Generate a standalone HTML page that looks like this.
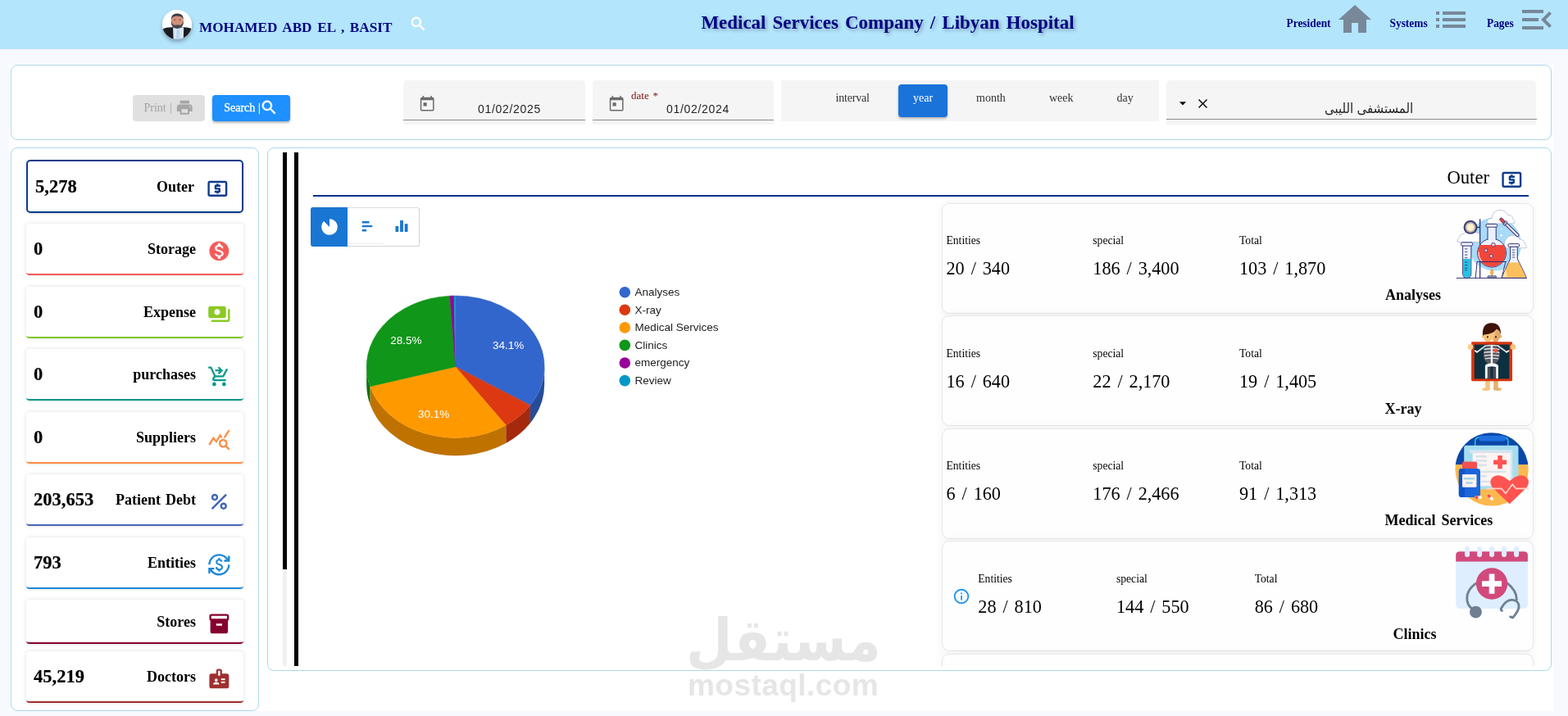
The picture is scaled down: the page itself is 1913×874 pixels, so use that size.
<!DOCTYPE html>
<html lang="en">
<head>
<meta charset="utf-8">
<title>Medical Services Company / Libyan Hospital</title>
<style>
*{box-sizing:border-box;margin:0;padding:0}
html,body{width:1913px;height:874px;overflow:hidden;background:#f8f8ff}
body{font-family:"Liberation Serif","DejaVu Serif",serif;color:#000;position:relative;word-spacing:2.4px}
.abs{position:absolute}
.t{position:absolute;white-space:nowrap;line-height:1}
.sans{font-family:"Liberation Sans","DejaVu Sans",sans-serif;word-spacing:0}
svg{position:absolute;display:block;overflow:visible}
#hdr{left:0;top:0;width:1913px;height:60px;background:#b3e5fc}
#white{left:11px;top:79px;width:1884px;height:789px;background:#fff}
.panel{position:absolute;border:1px solid #add8e6;border-radius:8px;background:#fff}
.navy{color:#000080}
.hname{font-weight:bold;font-size:17.2px}
.htitle{font-weight:bold;font-size:22.96px;text-shadow:2px 2px 4px rgba(0,0,40,.33)}
.hlink{font-weight:bold;font-size:13.4px;word-spacing:0;transform:scaleY(1.09);transform-origin:0 11.2px}
.avatar{position:absolute;left:197.6px;top:11.8px;width:36.7px;height:36.7px;border-radius:50%;overflow:hidden;background:#fff;box-shadow:0 3px 5px rgba(0,0,30,.3)}
.field{position:absolute;top:98px;height:53.5px;background:#f5f5f5;border-radius:4px 4px 0 0}
.field i{position:absolute;left:0;right:0;top:47.5px;height:1px;background:#8c8c8c}
.btn{position:absolute;top:116px;height:32px;border-radius:4px}
.f14{font-size:14px}
.scard{position:absolute;left:32px;width:265px;background:#fff;border-radius:4px;box-shadow:0 0 5px rgba(0,0,0,.13);border-bottom:2px solid #000}
.snum{font-weight:bold;font-size:22.5px;-webkit-text-stroke:.2px #000}
.slab{font-weight:bold;font-size:18px}
.rcard{position:absolute;width:721.5px;height:135px;background:#fefefe;border:1px solid #e7e7e7;border-radius:9px;box-shadow:0 0 14px rgba(0,0,0,.055)}
.rl{font-size:13.6px}
.rv{font-size:22.2px}
.rn{font-weight:bold;font-size:18px}
.lg{font-size:13.5px;color:#222}
.pl{font-size:14px;fill:#fff}
</style>
</head>
<body>
<div id="hdr" class="abs"></div>
<div id="white" class="abs"></div>
<!-- HEADER -->
<div id="header-content">
  <div class="avatar">
    <svg width="36.7" height="36.7" viewBox="0 0 36.7 36.7" style="left:0;top:0">
      <rect width="36.7" height="36.7" fill="#fff"/>
      <path d="M0 36.7 V23.4 Q6 21 12 21.3 L26.5 21.3 Q31 21 36.7 23.4 V36.7 Z" fill="#1b1c22"/>
      <path d="M13.1 21.5 L26.2 21.5 L25.8 36.7 L13.6 36.7 Z" fill="#d9e8f6"/>
      <path d="M17.6 24 L21 24 L21.6 36.7 L17 36.7Z" fill="#b9d6ee"/>
      <ellipse cx="18.3" cy="13.6" rx="7.6" ry="8.8" fill="#d29079"/>
      <path d="M10.7 12.4 Q10.6 4.6 18.3 4.5 Q26 4.6 25.9 12.4 Q25 7.4 18.3 7.4 Q11.6 7.4 10.7 12.4Z" fill="#3a3a40"/>
      <path d="M10.7 14.6 Q10.6 22.6 18.3 23 Q26 22.6 25.9 14.6 L25.1 14.6 Q24.6 18.6 21.6 18.7 Q18.3 17.8 15 18.7 Q12 18.6 11.5 14.6Z" fill="#46474d"/>
      <circle cx="15.3" cy="12.3" r=".7" fill="#4a3a3a"/><circle cx="21.3" cy="12.3" r=".7" fill="#4a3a3a"/>
    </svg>
  </div>
  <span class="t navy hname" style="left:243px;top:24.5px">MOHAMED ABD EL , BASIT</span>
  <svg width="22.5" height="22.5" viewBox="0 0 24 24" style="left:499.2px;top:18.2px"><path fill="#fff" stroke="#fff" stroke-width=".5" d="M15.5 14h-.79l-.28-.27C15.41 12.59 16 11.11 16 9.5 16 5.91 13.09 3 9.5 3S3 5.91 3 9.5 5.91 16 9.5 16c1.61 0 3.09-.59 4.23-1.57l.27.28v.79l5 4.99L20.49 19l-4.99-5zm-6 0C7.01 14 5 11.99 5 9.5S7.01 5 9.5 5 14 7.01 14 9.5 11.99 14 9.5 14z"/></svg>
  <span class="t navy htitle" style="left:855.4px;top:17px">Medical Services Company / Libyan Hospital</span>
  <span class="t navy hlink" style="left:1569.5px;top:22px">President</span>
  <svg width="48" height="48" viewBox="0 0 24 24" style="left:1628.5px;top:0"><path fill="#778899" d="M10 20v-6h4v6h5v-8h3L12 3 2 12h3v8z"/></svg>
  <span class="t navy hlink" style="left:1695.5px;top:22px">Systems</span>
  <svg width="48" height="48" viewBox="0 0 24 24" style="left:1746px;top:0"><path fill="#778899" d="M3 13h2v-2H3v2zm0 4h2v-2H3v2zm0-8h2V7H3v2zm4 4h14v-2H7v2zm0 4h14v-2H7v2zM7 7v2h14V7H7z"/></svg>
  <span class="t navy hlink" style="left:1814px;top:22px">Pages</span>
  <svg width="48" height="48" viewBox="0 0 24 24" style="left:1851px;top:0"><path fill="#778899" d="M3 18h13v-2H3v2zm0-5h10v-2H3v2zm0-7v2h13V6H3zm18 9.59L17.42 12 21 8.41 19.59 7l-5 5 5 5L21 15.59z"/></svg>
</div>
<!-- FILTER PANEL -->
<div class="panel" id="filter" style="left:13px;top:79px;width:1880px;height:92px"></div>
<div id="filter-content">
  <div class="btn" style="left:162px;width:87.5px;background:#e0e0e0"></div>
  <span class="t f14" style="left:175.5px;top:124.5px;color:#a3a3a3;word-spacing:.9px">Print |</span>
  <svg width="22.5" height="22.5" viewBox="0 0 24 24" style="left:214px;top:120.2px"><path fill="#a6a6a6" d="M19 8H5c-1.66 0-3 1.34-3 3v6h4v4h12v-4h4v-6c0-1.66-1.34-3-3-3zm-3 11H8v-5h8v5zm3-7c-.55 0-1-.45-1-1s.45-1 1-1 1 .45 1 1-.45 1-1 1zm-1-9H6v4h12V3z"/></svg>
  <div class="btn" style="left:259px;width:95px;background:#1e90ff;box-shadow:0 2px 3px rgba(0,0,0,.3)"></div>
  <span class="t f14" style="left:273.2px;top:124.5px;color:#fff;word-spacing:.3px;-webkit-text-stroke:.3px #fff">Search |</span>
  <svg width="22.5" height="22.5" viewBox="0 0 24 24" style="left:317.2px;top:120.2px"><path fill="#fff" stroke="#fff" stroke-width=".5" d="M15.5 14h-.79l-.28-.27C15.41 12.59 16 11.11 16 9.5 16 5.91 13.09 3 9.5 3S3 5.91 3 9.5 5.91 16 9.5 16c1.61 0 3.09-.59 4.23-1.57l.27.28v.79l5 4.99L20.49 19l-4.99-5zm-6 0C7.01 14 5 11.99 5 9.5S7.01 5 9.5 5 14 7.01 14 9.5 11.99 14 9.5 14z"/></svg>

  <div class="field" style="left:492px;width:222px"><i></i></div>
  <svg width="22.4" height="22.4" viewBox="0 0 24 24" style="left:509.8px;top:116px"><path fill="#6a6a6a" d="M19 3h-1V1h-1.600v2H7.600V1H6v2H5c-1.110 0-1.990.9-1.990 2L3 19c0 1.100.890 2 2 2h14c1.100 0 2-.9 2-2V5c0-1.100-.9-2-2-2zm.4 16.400H4.600V6.600h14.800v12.800zM7 10h4.400v4.400H7z"/></svg>
  <span class="t sans f14" style="left:583px;top:126px;color:#1f1f1f;letter-spacing:.68px">01/02/2025</span>

  <div class="field" style="left:723px;width:221px"><i></i></div>
  <svg width="22.4" height="22.4" viewBox="0 0 24 24" style="left:740.6px;top:115.6px"><path fill="#6a6a6a" d="M19 3h-1V1h-1.600v2H7.600V1H6v2H5c-1.110 0-1.990.9-1.990 2L3 19c0 1.100.890 2 2 2h14c1.100 0 2-.9 2-2V5c0-1.100-.9-2-2-2zm.4 16.400H4.600V6.600h14.800v12.800zM7 10h4.400v4.400H7z"/></svg>
  <span class="t" style="left:770px;top:110px;font-size:13px;color:#7d1212;word-spacing:1.6px">date *</span>
  <span class="t sans f14" style="left:813px;top:126px;color:#1f1f1f;letter-spacing:.68px">01/02/2024</span>

  <div class="abs" style="left:953px;top:98px;width:461px;height:49.5px;background:#f5f5f5"></div>
  <div class="abs" style="left:1096px;top:103px;width:60px;height:40px;background:#1a73d9;border-radius:4px;box-shadow:0 2px 3px rgba(0,0,0,.25)"></div>
  <span class="t f14" style="left:1019.5px;top:112.5px;color:#333;letter-spacing:-.2px">interval</span>
  <span class="t f14" style="left:1114px;top:112.5px;color:#fff">year</span>
  <span class="t f14" style="left:1191px;top:112.5px;color:#333">month</span>
  <span class="t f14" style="left:1280px;top:112.5px;color:#333">week</span>
  <span class="t f14" style="left:1362.5px;top:112.5px;color:#333">day</span>

  <div class="field" style="left:1423px;width:451px"><i style="right:-1px;top:46.5px"></i></div>
  <svg width="20" height="20" viewBox="0 0 24 24" style="left:1432.6px;top:115.7px"><path fill="#111" d="M7 10l5 5 5-5z"/></svg>
  <svg width="19" height="19" viewBox="0 0 24 24" style="left:1458px;top:116.7px"><path fill="#111" d="M19 6.41L17.59 5 12 10.59 6.41 5 5 6.41 10.59 12 5 17.59 6.41 19 12 13.41 17.59 19 19 17.59 13.41 12z"/></svg>
  <span class="t sans" dir="rtl" lang="ar" style="left:1616px;top:125px;font-size:15px;color:#1f1f1f;transform:scaleY(1.1);transform-origin:50% 88%">المستشفى الليبى</span>
</div>
<!-- LEFT PANEL -->
<div class="panel" id="left" style="left:13px;top:180px;width:303px;height:688px"></div>
<div id="left-content">
  <div class="abs" style="left:32px;top:195px;width:265px;height:65px;border:2px solid #0d3b8c;border-radius:5px;background:#fff;box-shadow:0 1px 3px rgba(0,0,0,.15)"></div>
  <span class="t snum" style="left:43px;top:217px">5,278</span>
  <span class="t slab" style="right:1676px;top:219px">Outer</span>
  <svg width="28.7" height="28.7" viewBox="0 0 24 24" style="left:250.8px;top:216px"><path fill="#0d3b8c" d="M11 17h2v-1h1c.55 0 1-.45 1-1v-3c0-.55-.45-1-1-1h-3v-1h4V8h-2V7h-2v1h-1c-.55 0-1 .45-1 1v3c0 .55.45 1 1 1h3v1H9v2h2v1zm9-13H4c-1.11 0-1.99.89-1.99 2L2 18c0 1.11.89 2 2 2h16c1.11 0 2-.89 2-2V6c0-1.11-.89-2-2-2zm0 14H4V6h16v12z"/></svg>

  <div class="scard" style="top:273px;height:62.5px;border-color:#f55a5a"></div>
  <span class="t snum" style="left:41px;top:293px">0</span>
  <span class="t slab" style="right:1674px;top:295px">Storage</span>
  <svg width="28.7" height="28.7" viewBox="0 0 24 24" style="left:252.7px;top:292px"><path fill="#f55a5a" d="M12 2C6.48 2 2 6.48 2 12s4.48 10 10 10 10-4.48 10-10S17.52 2 12 2zm1.41 16.09V20h-2.67v-1.93c-1.71-.36-3.16-1.46-3.27-3.4h1.96c.1 1.05.82 1.87 2.65 1.87 1.96 0 2.4-.98 2.4-1.59 0-.83-.44-1.61-2.67-2.14-2.48-.6-4.18-1.62-4.18-3.67 0-1.72 1.39-2.84 3.11-3.21V4h2.67v1.95c1.86.45 2.79 1.86 2.85 3.39H14.3c-.05-1.11-.64-1.87-2.22-1.87-1.5 0-2.4.68-2.4 1.64 0 .84.65 1.39 2.67 1.91s4.18 1.39 4.18 3.91c-.01 1.83-1.38 2.83-3.12 3.16z"/></svg>

  <div class="scard" style="top:349.5px;height:63.5px;border-color:#7ec820"></div>
  <span class="t snum" style="left:41px;top:369.5px">0</span>
  <span class="t slab" style="right:1674px;top:371.5px">Expense</span>
  <svg width="28.7" height="28.7" viewBox="0 0 24 24" style="left:252.6px;top:368.8px"><path fill="#8bc926" d="M19 14V6c0-1.1-.9-2-2-2H3c-1.1 0-2 .9-2 2v8c0 1.1.9 2 2 2h14c1.1 0 2-.9 2-2zm-9-1c-1.66 0-3-1.34-3-3s1.34-3 3-3 3 1.34 3 3-1.34 3-3 3zm13-6v11c0 1.1-.9 2-2 2H4v-2h17V7h2z"/></svg>

  <div class="scard" style="top:425.5px;height:63.5px;border-color:#009688"></div>
  <span class="t snum" style="left:41px;top:446px">0</span>
  <span class="t slab" style="right:1674px;top:448px">purchases</span>
  <svg width="28.7" height="28.7" viewBox="0 0 24 24" style="left:252.8px;top:445.2px"><path fill="#0a9a90" d="M7,18c-1.1,0-1.99,0.9-1.99,2S5.900,22,7,22s2-0.900,2-2S8.100,18,7,18z M17,18c-1.100,0-1.990,0.900-1.990,2s0.890,2,1.990,2s2-0.900,2-2 S18.100,18,17,18z M8.100,13h7.450c0.750,0,1.410-0.410,1.750-1.030L21,4.960L19.250,4l-3.700,7H8.530L4.270,2H1v2h2l3.600,7.590l-1.350,2.440 C4.520,15.370,5.480,17,7,17h12v-2H7L8.100,13z M12,2l4,4l-4,4l-1.410-1.410L12.170,7H8V5h4.170l-1.590-1.590L12,2z"/></svg>

  <div class="scard" style="top:503px;height:63px;border-color:#fa8c46"></div>
  <span class="t snum" style="left:41px;top:522.5px">0</span>
  <span class="t slab" style="right:1674px;top:524.5px">Suppliers</span>
  <svg width="28.7" height="28.7" viewBox="0 0 24 24" style="left:252.6px;top:521.5px"><path fill="#fa8f4a" d="M19.880,18.470c0.440-0.700,0.700-1.510,0.700-2.390c0-2.490-2.010-4.500-4.500-4.500s-4.500,2.010-4.500,4.500s2.010,4.500,4.490,4.500 c0.880,0,1.700-0.260,2.390-0.700L21.580,23L23,21.580L19.880,18.470z M16.080,18.580c-1.380,0-2.500-1.120-2.500-2.500c0-1.380,1.120-2.500,2.500-2.500 s2.500,1.120,2.500,2.500C18.580,17.460,17.460,18.580,16.080,18.580z M15.720,10.080c-0.740,0.020-1.450,0.180-2.100,0.450l-0.550-0.830l-3.800,6.180 l-3.010-3.520l-3.630,5.810L1,17l5-8l3,3.500L13,6C13,6,15.720,10.080,15.720,10.080z M18.310,10.580c-0.640-0.280-1.330-0.450-2.050-0.490 c0,0,5.120-8.090,5.120-8.090L23,3.180L18.310,10.580z"/></svg>

  <div class="scard" style="top:579px;height:63px;border-color:#4467b6"></div>
  <span class="t snum" style="left:41px;top:599px">203,653</span>
  <span class="t slab" style="right:1674px;top:601px;word-spacing:1.4px">Patient Debt</span>
  <svg width="28.7" height="28.7" viewBox="0 0 24 24" style="left:252.9px;top:598.4px"><path fill="#3f62b8" d="M7.500,4C5.570,4,4,5.570,4,7.500S5.570,11,7.500,11S11,9.430,11,7.500S9.430,4,7.500,4z M7.500,9C6.670,9,6,8.330,6,7.500S6.670,6,7.500,6 S9,6.670,9,7.500S8.330,9,7.500,9z M16.500,13c-1.930,0-3.500,1.570-3.500,3.500s1.570,3.500,3.500,3.500s3.500-1.570,3.500-3.500S18.430,13,16.500,13z M16.500,18 c-0.830,0-1.500-0.670-1.500-1.500s0.670-1.500,1.500-1.500s1.500,0.670,1.500,1.500S17.330,18,16.500,18z M5.410,20L4,18.590L18.590,4L20,5.410L5.410,20z"/></svg>

  <div class="scard" style="top:656px;height:62.5px;border-color:#1e88d8"></div>
  <span class="t snum" style="left:41px;top:675.5px">793</span>
  <span class="t slab" style="right:1674px;top:677.5px">Entities</span>
  <svg width="28.7" height="28.7" viewBox="0 0 24 24" style="left:252.9px;top:674.7px"><path fill="#1e88d8" d="M12.890,11.100c-1.780-0.590-2.640-0.960-2.640-1.900c0-1.020,1.110-1.390,1.810-1.390c1.310,0,1.790,0.990,1.900,1.340l1.580-0.670 c-0.150-0.440-0.820-1.910-2.660-2.230V5h-1.750v1.260c-2.600,0.560-2.620,2.850-2.620,2.960c0,2.270,2.250,2.910,3.350,3.310 c1.580,0.560,2.280,1.070,2.280,2.030c0,1.130-1.050,1.610-1.980,1.610c-1.820,0-2.340-1.870-2.400-2.090L8.100,14.750c0.630,2.190,2.280,2.780,3.020,2.960V19 h1.750v-1.240c0.520-0.090,3.020-0.590,3.020-3.220C15.900,13.150,15.290,11.930,12.890,11.100z M3,21H1v-6h6v2l-2.480,0c1.610,2.410,4.360,4,7.480,4 c4.970,0,9-4.030,9-9h2c0,6.080-4.920,11-11,11c-3.720,0-7.010-1.850-9-4.670L3,21z M1,12C1,5.920,5.920,1,12,1c3.720,0,7.010,1.850,9,4.670L21,3 h2v6h-6V7l2.480,0C17.870,4.590,15.120,3,12,3c-4.970,0-9,4.030-9,9H1z"/></svg>

  <div class="scard" style="top:731.5px;height:54px;border-color:#84022f"></div>
  <span class="t slab" style="right:1674px;top:749.5px">Stores</span>
  <svg width="28.7" height="28.7" viewBox="0 0 24 24" style="left:252.9px;top:746.7px"><path fill="#84022f" d="M20 2H4c-1 0-2 .9-2 2v3.010c0 .72.430 1.340 1 1.690V20c0 1.100 1.100 2 2 2h14c.9 0 2-.9 2-2V8.700c.570-.350 1-.970 1-1.690V4c0-1.100-1-2-2-2zm-5 12H9v-2h6v2zm5-7H4V4h16v3z"/></svg>

  <div class="scard" style="top:795px;height:62.5px;border-color:#a52a2a"></div>
  <span class="t snum" style="left:41px;top:815px">45,219</span>
  <span class="t slab" style="right:1674px;top:817px">Doctors</span>
  <svg width="28.7" height="28.7" viewBox="0 0 24 24" style="left:253px;top:814px"><path fill="#a03030" d="M20,7h-5V4c0-1.100-0.900-2-2-2h-2C9.900,2,9,2.900,9,4v3H4C2.900,7,2,7.900,2,9v11c0,1.100,0.900,2,2,2h16c1.100,0,2-0.900,2-2V9 C22,7.900,21.100,7,20,7z M9,12c0.830,0,1.500,0.670,1.500,1.500S9.830,15,9,15s-1.500-0.670-1.500-1.500S8.170,12,9,12z M12,18H6v-0.750c0-1,2-1.500,3-1.500 s3,0.500,3,1.500V18z M13,9h-2V4h2V9z M18,16.500h-4V15h4V16.500z M18,13.500h-4V12h4V13.500z"/></svg>
</div>
<!-- RIGHT PANEL -->
<div class="panel" id="right" style="left:326px;top:180px;width:1567px;height:639px"></div>
<div id="right-content">
  <div class="abs" style="left:345px;top:186px;width:5px;height:627px;background:#f0f0f0"></div>
  <div class="abs" style="left:345px;top:186px;width:5px;height:509px;background:#000"></div>
  <div class="abs" style="left:359px;top:186px;width:5px;height:627px;background:#000"></div>
  <div class="abs" style="left:382px;top:238px;width:1483px;height:2px;background:#003087"></div>
  <span class="t" style="left:1765.5px;top:205.5px;font-size:22.6px">Outer</span>
  <svg width="28.7" height="28.7" viewBox="0 0 24 24" style="left:1830.3px;top:205px"><path fill="#0d3b8c" d="M11 17h2v-1h1c.55 0 1-.45 1-1v-3c0-.55-.45-1-1-1h-3v-1h4V8h-2V7h-2v1h-1c-.55 0-1 .45-1 1v3c0 .55.45 1 1 1h3v1H9v2h2v1zm9-13H4c-1.11 0-1.99.89-1.99 2L2 18c0 1.11.89 2 2 2h16c1.11 0 2-.89 2-2V6c0-1.11-.89-2-2-2zm0 14H4V6h16v12z"/></svg>

  <div class="abs" style="left:379px;top:253px;width:133px;height:47.5px;border:1px solid #dedede;border-right-color:#d4d4d4;border-bottom-color:#d4d4d4;border-radius:3px;background:#fff"></div>
  <div class="abs" style="left:424px;top:297.3px;width:44px;height:1px;background:#e9e9e9"></div>
  <div class="abs" style="left:379px;top:253px;width:45px;height:47.5px;border-radius:3px 0 0 3px;background:#1976d2"></div>
  <svg width="30" height="30" viewBox="-15 -15 30 30" style="left:386.8px;top:261.8px"><path fill="#fff" d="M0,0 L0,-9.8 A9.8,9.8 0 1 1 -6.93,-6.93 Z"/></svg>
  <svg width="20" height="20" viewBox="0 0 20 20" style="left:440px;top:267px"><path fill="#1976d2" d="M1.7 3.1h8.8v2.5H1.7zM1.7 7.9h12.5v2.4H1.7zM1.7 13.1h5.4v2.5H1.7z"/></svg>
  <svg width="20" height="20" viewBox="0 0 20 20" style="left:480px;top:267px"><path fill="#1976d2" d="M2.5 9.1h3.7v6.9H2.5zM8.1 2h3.8v14H8.1zM13.7 6.3h3.8v9.7h-3.8z"/></svg>
<svg id="pie" width="1913" height="874" viewBox="0 0 1913 874" style="left:0;top:0;pointer-events:none" shape-rendering="geometricPrecision">
<path d="M664.20,447.70 A108.5,86.7 0 0 1 646.92,494.64 L646.92,516.44 A108.5,86.7 0 0 0 664.20,469.50 Z" fill="#264c99"/>
<path d="M646.92,494.64 A108.5,86.7 0 0 1 617.26,519.09 L617.26,540.89 A108.5,86.7 0 0 0 646.92,516.44 Z" fill="#a52a0d"/>
<path d="M617.26,519.09 A108.5,86.7 0 0 1 451.45,471.73 L451.45,493.53 A108.5,86.7 0 0 0 617.26,540.89 Z" fill="#bf7200"/>
<path d="M451.45,471.73 A108.5,86.7 0 0 1 447.20,447.70 L447.20,469.50 A108.5,86.7 0 0 0 451.45,493.53 Z" fill="#0c7012"/>
<path d="M555.7,447.7 L555.70,361.00 A108.5,86.7 0 0 1 646.92,494.64 Z" fill="#3366cc" stroke="#3366cc" stroke-width="0.5"/>
<path d="M555.7,447.7 L646.92,494.64 A108.5,86.7 0 0 1 617.26,519.09 Z" fill="#dc3912" stroke="#dc3912" stroke-width="0.5"/>
<path d="M555.7,447.7 L617.26,519.09 A108.5,86.7 0 0 1 451.45,471.73 Z" fill="#ff9900" stroke="#ff9900" stroke-width="0.5"/>
<path d="M555.7,447.7 L451.45,471.73 A108.5,86.7 0 0 1 548.93,361.17 Z" fill="#109618" stroke="#109618" stroke-width="0.5"/>
<path d="M555.7,447.7 L548.93,361.17 A108.5,86.7 0 0 1 553.89,361.01 Z" fill="#990099" stroke="#990099" stroke-width="0.5"/>
<path d="M555.7,447.7 L553.89,361.01 A108.5,86.7 0 0 1 555.70,361.00 Z" fill="#0099c6" stroke="#0099c6" stroke-width="0.5"/>
<g font-family="'Liberation Sans','DejaVu Sans',sans-serif" font-size="13.5" fill="#ffffff" style="word-spacing:0">
<text x="601" y="426">34.1%</text>
<text x="510" y="509.6">30.1%</text>
<text x="476.3" y="420">28.5%</text>
</g>
<g font-family="'Liberation Sans','DejaVu Sans',sans-serif" font-size="13.5" fill="#222222" style="word-spacing:0">
<circle cx="762.3" cy="356.7" r="6.8" fill="#3366cc"/>
<text x="774.5" y="361.0">Analyses</text>
<circle cx="762.3" cy="378.3" r="6.8" fill="#dc3912"/>
<text x="774.5" y="382.6">X-ray</text>
<circle cx="762.3" cy="399.9" r="6.8" fill="#ff9900"/>
<text x="774.5" y="404.2">Medical Services</text>
<circle cx="762.3" cy="421.4" r="6.8" fill="#109618"/>
<text x="774.5" y="425.7">Clinics</text>
<circle cx="762.3" cy="443.0" r="6.8" fill="#990099"/>
<text x="774.5" y="447.3">emergency</text>
<circle cx="762.3" cy="464.6" r="6.8" fill="#0099c6"/>
<text x="774.5" y="468.9">Review</text>
</g>
</svg>
  <span class="t sans" dir="rtl" lang="ar" id="wm1" style="left:837.1px;top:746.4px;transform-origin:0 0;transform:scale(1.016,1.108);font-family:'DejaVu Sans','Liberation Sans',sans-serif;font-weight:bold;font-size:64px;color:#e6e6e6">مستقل</span>
  <span class="t sans" id="wm2" style="left:839px;top:818.3px;font-weight:bold;font-size:37px;color:#e6e6e6;letter-spacing:.45px">mostaql.com</span>
</div>
<!-- RIGHT CARDS -->
<div id="cards" class="abs" style="left:1130px;top:240px;width:744px;height:573px;overflow:hidden">
<div class="rcard" style="left:19px;top:8px"></div>
<div class="rcard" style="left:19px;top:145px"></div>
<div class="rcard" style="left:19px;top:283px"></div>
<div class="rcard" style="left:19px;top:420px"></div>
<div class="rcard" style="left:19px;top:558px"></div>
<span class="t rl" style="left:24.5px;top:47.2px">Entities</span>
<span class="t rv" style="left:24.5px;top:76.5px">20 / 340</span>
<span class="t rl" style="left:203.3px;top:47.2px">special</span>
<span class="t rv" style="left:203.3px;top:76.5px">186 / 3,400</span>
<span class="t rl" style="left:382.0px;top:47.2px">Total</span>
<span class="t rv" style="left:382.0px;top:76.5px">103 / 1,870</span>
<span class="t rn" style="left:560.0px;top:111.1px">Analyses</span>
<span class="t rl" style="left:24.5px;top:184.7px">Entities</span>
<span class="t rv" style="left:24.5px;top:214.8px">16 / 640</span>
<span class="t rl" style="left:203.3px;top:184.7px">special</span>
<span class="t rv" style="left:203.3px;top:214.8px">22 / 2,170</span>
<span class="t rl" style="left:382.0px;top:184.7px">Total</span>
<span class="t rv" style="left:382.0px;top:214.8px">19 / 1,405</span>
<span class="t rn" style="left:559.5px;top:249.6px">X-ray</span>
<span class="t rl" style="left:24.5px;top:322.2px">Entities</span>
<span class="t rv" style="left:24.5px;top:351.5px">6 / 160</span>
<span class="t rl" style="left:203.3px;top:322.2px">special</span>
<span class="t rv" style="left:203.3px;top:351.5px">176 / 2,466</span>
<span class="t rl" style="left:382.0px;top:322.2px">Total</span>
<span class="t rv" style="left:382.0px;top:351.5px">91 / 1,313</span>
<span class="t rn" style="left:559.5px;top:386.4px">Medical Services</span>
<span class="t rl" style="left:63.3px;top:459.5px">Entities</span>
<span class="t rv" style="left:63.3px;top:489.8px">28 / 810</span>
<span class="t rl" style="left:232.0px;top:459.5px">special</span>
<span class="t rv" style="left:232.0px;top:489.8px">144 / 550</span>
<span class="t rl" style="left:400.7px;top:459.5px">Total</span>
<span class="t rv" style="left:400.7px;top:489.8px">86 / 680</span>
<span class="t rn" style="left:569.5px;top:524.7px">Clinics</span>
<svg width="22" height="22" viewBox="0 0 24 24" style="left:31.5px;top:476.6px"><path fill="#2196f3" d="M11 7h2v2h-2zm0 4h2v6h-2zm1-9C6.48 2 2 6.480 2 12s4.480 10 10 10 10-4.480 10-10S17.520 2 12 2zm0 18c-4.410 0-8-3.590-8-8s3.590-8 8-8 8 3.590 8 8-3.590 8-8 8z"/></svg>
<svg id="ill-lab" width="120" height="105" viewBox="0 0 999 874" style="left:630px;top:5px">
 <circle cx="528" cy="442" r="272" fill="#a9daf8"/>
 <g fill="#fff" stroke="#b4bfd4" stroke-width="7" stroke-linejoin="round">
  <path d="M470 232 Q448 232 452 210 Q458 182 500 180 Q505 100 580 95 Q640 95 662 145 Q708 140 716 188 Q738 198 728 232 Z"/>
  <path d="M152 420 Q140 395 165 380 Q178 338 218 335 Q240 300 290 310 L380 335 L380 420 Z"/>
  <path d="M625 445 Q635 370 700 352 Q762 345 782 392 Q832 396 838 446 Q862 456 850 480 L640 480 Z"/>
 </g>
 <g fill="#fff"><circle cx="595" cy="352" r="10"/><circle cx="422" cy="188" r="6"/><circle cx="598" cy="287" r="6"/><circle cx="318" cy="592" r="6"/><circle cx="430" cy="690" r="5"/><circle cx="560" cy="690" r="5"/></g>
 <line x1="380" y1="185" x2="380" y2="785" stroke="#2e2a70" stroke-width="10"/>
 <line x1="345" y1="270" x2="380" y2="270" stroke="#2e2a70" stroke-width="12"/>
 <circle cx="283" cy="270" r="70" fill="#35316f"/>
 <circle cx="283" cy="270" r="56" fill="#9a9db8"/>
 <circle cx="283" cy="270" r="43" fill="#ffe3a0"/>
 <circle cx="283" cy="270" r="28" fill="#fff4d4"/>
 <path d="M205 455 L205 740 Q205 785 247 785 Q290 785 290 740 L290 455 Z" fill="#eef4fd" stroke="#2e2a70" stroke-width="8"/>
 <path d="M209 590 L286 590 L286 740 Q286 781 247 781 Q209 781 209 740 Z" fill="#25c1e0"/>
 <path d="M225 490h28M225 520h28M225 550h28M225 580h28M225 625h28M225 655h28M225 685h28M225 705h20" stroke="#2e2a70" stroke-width="7"/>
 <rect x="188" y="424" width="117" height="34" rx="13" fill="#f4f8ff" stroke="#2e2a70" stroke-width="8"/>
 <path d="M350 620 L335 785 M640 620 L600 785" stroke="#2e2a70" stroke-width="8" fill="none"/>
 <circle cx="500" cy="530" r="145" fill="#e9f1fc" stroke="#2e2a70" stroke-width="8"/>
 <rect x="458" y="262" width="85" height="150" fill="#e9f1fc"/>
 <path d="M458 265 L458 398 M543 265 L543 398" stroke="#2e2a70" stroke-width="8"/>
 <path d="M384 450 A141 141 0 1 0 616 450 Z" fill="#f2463a"/>
 <path d="M368 520 A133 133 0 0 0 400 620" stroke="#ffc9c4" stroke-width="12" fill="none"/>
 <g fill="#f8b9c0" stroke="#2e2a70" stroke-width="6"><circle cx="515" cy="447" r="20"/><circle cx="440" cy="505" r="17"/><circle cx="493" cy="562" r="17"/></g>
 <rect x="440" y="238" width="115" height="30" rx="12" fill="#f4f8ff" stroke="#2e2a70" stroke-width="8"/>
 <line x1="350" y1="620" x2="650" y2="620" stroke="#2e2a70" stroke-width="8"/>
 <path d="M500 695 Q528 735 500 760 Q472 735 500 695Z" fill="#ffb64d" stroke="#e07b1a" stroke-width="5"/>
 <rect x="458" y="764" width="87" height="20" rx="6" fill="#9aa5b8" stroke="#2e2a70" stroke-width="6"/>
 <path d="M688 465 L688 590 L606 768 Q600 785 620 785 L835 785 Q852 785 846 768 L760 590 L760 465 Z" fill="#eef4fd" stroke="#2e2a70" stroke-width="8"/>
 <path d="M673 628 L610 768 Q605 781 620 781 L835 781 Q848 781 842 768 L776 628 Z" fill="#fbc05c"/>
 <path d="M640 700 L612 775 L660 775 Z" fill="#fde3a8"/>
 <path d="M708 500h26M708 525h26M708 550h26M708 575h26" stroke="#2e2a70" stroke-width="7"/>
 <rect x="665" y="438" width="115" height="30" rx="12" fill="#f4f8ff" stroke="#2e2a70" stroke-width="8"/>
 <g transform="translate(585,180) rotate(44)">
  <rect x="82" y="-13" width="175" height="26" rx="10" fill="#fff" stroke="#2e2a70" stroke-width="8"/>
  <rect x="58" y="-22" width="26" height="44" rx="5" fill="#aab4c8" stroke="#2e2a70" stroke-width="7"/>
  <rect x="0" y="-15" width="62" height="30" rx="15" fill="#e8463c" stroke="#2e2a70" stroke-width="7"/>
 </g>
 <line x1="140" y1="786" x2="858" y2="786" stroke="#2e2a70" stroke-width="8"/>
</svg>
<svg id="ill-xray" width="120" height="105" viewBox="0 0 999 874" style="left:630px;top:145px">
 <rect x="435" y="660" width="46" height="90" fill="#f6c47e"/>
 <rect x="518" y="660" width="46" height="90" fill="#e8b06c"/>
 <ellipse cx="442" cy="750" rx="42" ry="16" fill="#f6c47e"/>
 <ellipse cx="558" cy="750" rx="42" ry="16" fill="#e8b06c"/>
 <circle cx="411" cy="215" r="15" fill="#f6c47e"/>
 <circle cx="587" cy="215" r="15" fill="#e8b06c"/>
 <ellipse cx="498" cy="200" rx="88" ry="88" fill="#f6c47e"/>
 <path d="M498 112 A88 88 0 0 1 498 288 Q520 250 545 140 Z" fill="#e3aa68"/>
 <path d="M408 205 Q396 78 498 76 Q600 78 590 205 Q586 152 548 138 Q520 192 422 196 Z" fill="#3e1408"/>
 <circle cx="457" cy="219" r="9" fill="#2b1a14"/><circle cx="541" cy="219" r="9" fill="#2b1a14"/>
 <rect x="485" y="250" width="30" height="12" rx="5" fill="#fff"/>
 <rect x="292" y="268" width="416" height="400" rx="12" fill="#d8350e"/>
 <rect x="322" y="296" width="356" height="348" fill="#0d3040"/>
 <circle cx="283" cy="320" r="28" fill="#f9cf8c"/>
 <circle cx="716" cy="320" r="28" fill="#f6c47e"/>
 <ellipse cx="498" cy="400" rx="84" ry="100" fill="#56565f"/>
 <path d="M432 312 L350 372 M566 312 L650 372" stroke="#d9d9dd" stroke-width="16" stroke-linecap="round"/>
 <path d="M350 372 L330 360 M650 372 L670 360" stroke="#fff" stroke-width="14" stroke-linecap="round"/>
 <path d="M425 312 Q498 295 575 312 M420 345 Q498 328 578 345 M420 378 Q498 362 578 378 M425 410 Q498 395 573 410 M432 440 Q498 428 566 440" stroke="#e4e4e8" stroke-width="12" fill="none"/>
 <rect x="489" y="300" width="20" height="190" fill="#f4f4f6"/>
 <path d="M520 345 q20 -14 40 0 q8 16 -20 36 q-28 -20 -20 -36z" fill="#f0504a"/>
 <path d="M438 500 Q498 468 560 500 L560 530 Q498 505 438 530 Z" fill="#fff"/>
 <rect x="432" y="505" width="24" height="138" rx="10" fill="#f4f4f6"/>
 <rect x="542" y="505" width="24" height="138" rx="10" fill="#f4f4f6"/>
 <rect x="458" y="530" width="28" height="112" fill="#4c4c56"/>
 <rect x="512" y="530" width="28" height="112" fill="#4c4c56"/>
</svg>
<svg id="ill-med" width="120" height="105" viewBox="0 0 999 874" style="left:630px;top:280px">
 <defs><clipPath id="cpm"><circle cx="500" cy="440" r="372"/></clipPath></defs>
 <g clip-path="url(#cpm)">
  <rect x="120" y="60" width="760" height="335" fill="#0b47a8"/>
  <rect x="120" y="392" width="760" height="430" fill="#fdb94e"/>
 </g>
 <path d="M330 205 L330 160 Q330 115 375 115 L625 115 Q665 115 665 160 L665 205" stroke="#29b6d8" stroke-width="14" fill="none"/>
 <rect x="370" y="98" width="270" height="56" rx="22" fill="#1f6fe0"/>
 <rect x="218" y="198" width="552" height="445" rx="24" fill="#a6ddf0"/>
 <rect x="275" y="243" width="435" height="36" fill="#d6e4ee"/>
 <rect x="305" y="275" width="385" height="335" fill="#fff4f1"/>
 <rect x="690" y="275" width="20" height="335" fill="#d9e6ef"/>
 <g fill="#d5e3ec"><rect x="335" y="298" width="115" height="22" rx="11"/><rect x="335" y="342" width="115" height="22" rx="11"/><rect x="350" y="388" width="100" height="22" rx="11"/><rect x="390" y="455" width="260" height="20" rx="10"/><rect x="390" y="500" width="60" height="20" rx="10"/><rect x="390" y="555" width="100" height="20" rx="10"/></g>
 <path d="M560 300h46v45h44v46h-44v44h-46v-44h-43v-46h43z" fill="#ff5252"/>
 <rect x="200" y="362" width="150" height="74" rx="14" fill="#f4504f"/>
 <rect x="165" y="432" width="218" height="292" rx="28" fill="#1a66dc"/>
 <path d="M193 432 L225 432 L225 724 L193 724 Q165 724 165 696 L165 460 Q165 432 193 432Z" fill="#0f55c8"/>
 <rect x="200" y="492" width="145" height="130" rx="8" fill="#fff3f0"/>
 <rect x="212" y="525" width="115" height="20" rx="10" fill="#a6d6f0"/><rect x="232" y="568" width="75" height="20" rx="10" fill="#a6d6f0"/>
 <path d="M680 792 L505 625 Q462 560 512 518 Q580 470 680 560 Q780 470 848 518 Q898 560 855 625 Z" fill="#ff5350"/>
 <polyline points="445,636 600,636 640,686 710,592 745,636 875,636" stroke="#ffd1c7" stroke-width="14" fill="none" stroke-linejoin="round"/>
 <rect x="325" y="710" width="75" height="30" rx="15" fill="#fff"/><path d="M340 710h22v30h-22a15 15 0 0 1 0-30z" fill="#f4504f"/>
 <g transform="rotate(45 485 725)"><rect x="448" y="710" width="75" height="30" rx="15" fill="#fff"/><path d="M463 710h22v30h-22a15 15 0 0 1 0-30z" fill="#f4504f"/></g>
</svg>
<svg id="ill-clinic" width="120" height="105" viewBox="0 0 999 874" style="left:630px;top:420px">
 <rect x="135" y="110" width="730" height="580" rx="38" fill="#dfeeff"/>
 <path d="M135 213 L135 148 Q135 110 173 110 L827 110 Q865 110 865 148 L865 213 Z" fill="#d14a7b"/>
 <g fill="#dfeeff"><rect x="225" y="58" width="50" height="108" rx="25"/><rect x="350" y="58" width="50" height="108" rx="25"/><rect x="475" y="58" width="50" height="108" rx="25"/><rect x="600" y="58" width="50" height="108" rx="25"/><rect x="725" y="58" width="50" height="108" rx="25"/></g>
 <path d="M345 430 Q235 505 250 610 Q258 665 305 695 M655 430 Q752 505 752 600" stroke="#6e8294" stroke-width="24" fill="none" stroke-linecap="round"/>
 <circle cx="337" cy="725" r="62" fill="#6e7f92"/>
 <path d="M603 712 Q588 702 595 688 Q640 602 705 600 Q775 606 775 672 Q770 722 712 782 L688 774" stroke="#6e8294" stroke-width="24" fill="none" stroke-linecap="round" stroke-linejoin="round"/>
 <circle cx="500" cy="437" r="160" fill="#d14a7b"/>
 <path d="M472 338h56v72h72v56h-72v72h-56v-72h-72v-56h72z" fill="#fff"/>
</svg>

</div>
</body>
</html>
